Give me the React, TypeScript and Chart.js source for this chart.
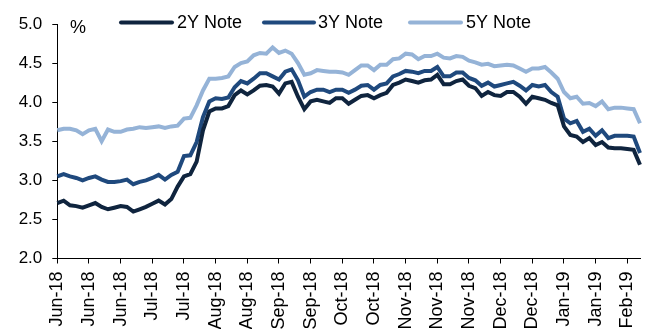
import React, { useEffect, useRef } from "react";
import { Chart, registerables } from "chart.js";

Chart.register(...registerables);

// One point every ~2 business days, Jun-2018 .. mid Feb-2019
const categories: string[] = [
  "Jun-18", "Jun-18", "Jun-18", "Jun-18", "Jun-18", "Jun-18", "Jun-18", "Jun-18", "Jun-18", "Jun-18", "Jun-18",
  "Jul-18", "Jul-18", "Jul-18", "Jul-18", "Jul-18", "Jul-18", "Jul-18", "Jul-18", "Jul-18", "Jul-18", "Jul-18",
  "Aug-18", "Aug-18", "Aug-18", "Aug-18", "Aug-18", "Aug-18", "Aug-18", "Aug-18", "Aug-18", "Aug-18", "Aug-18",
  "Sep-18", "Sep-18", "Sep-18", "Sep-18", "Sep-18", "Sep-18", "Sep-18", "Sep-18", "Sep-18", "Sep-18", "Sep-18",
  "Oct-18", "Oct-18", "Oct-18", "Oct-18", "Oct-18", "Oct-18", "Oct-18", "Oct-18", "Oct-18", "Oct-18", "Oct-18",
  "Nov-18", "Nov-18", "Nov-18", "Nov-18", "Nov-18", "Nov-18", "Nov-18", "Nov-18", "Nov-18", "Nov-18", "Nov-18",
  "Dec-18", "Dec-18", "Dec-18", "Dec-18", "Dec-18", "Dec-18", "Dec-18", "Dec-18", "Dec-18", "Dec-18", "Dec-18",
  "Jan-19", "Jan-19", "Jan-19", "Jan-19", "Jan-19", "Jan-19", "Jan-19", "Jan-19", "Jan-19", "Jan-19", "Jan-19",
  "Feb-19", "Feb-19", "Feb-19", "Feb-19", "Feb-19",
];

const note2y: number[] = [
  2.71, 2.74, 2.68, 2.67, 2.65, 2.68, 2.71, 2.66, 2.63, 2.65,
  2.67, 2.66, 2.60, 2.63, 2.66, 2.70, 2.74, 2.69, 2.76, 2.92,
  3.05, 3.08, 3.24, 3.64, 3.88, 3.92, 3.92, 3.95, 4.09, 4.15,
  4.10, 4.15, 4.21, 4.22, 4.20, 4.11, 4.24, 4.26, 4.07, 3.91,
  4.01, 4.03, 4.01, 3.99, 4.05, 4.05, 3.98, 4.03, 4.08, 4.09,
  4.05, 4.09, 4.12, 4.22, 4.25, 4.29, 4.27, 4.25, 4.28, 4.29,
  4.35, 4.23, 4.23, 4.27, 4.29, 4.21, 4.18, 4.08, 4.13, 4.09,
  4.08, 4.13, 4.13, 4.07, 3.98, 4.07, 4.05, 4.03, 3.99, 3.96,
  3.69, 3.58, 3.56, 3.49, 3.54, 3.45, 3.49, 3.42, 3.41, 3.41,
  3.40, 3.39, 3.20,
];

const note3y: number[] = [
  3.05, 3.08, 3.05, 3.03, 3.00, 3.03, 3.05, 3.01, 2.98, 2.98,
  2.99, 3.01, 2.95, 2.98, 3.00, 3.03, 3.07, 3.01, 3.07, 3.11,
  3.31, 3.32, 3.49, 3.81, 4.01, 4.05, 4.04, 4.06, 4.19, 4.27,
  4.24, 4.30, 4.37, 4.37, 4.33, 4.29, 4.39, 4.42, 4.28, 4.07,
  4.13, 4.16, 4.16, 4.13, 4.16, 4.16, 4.12, 4.16, 4.21, 4.22,
  4.16, 4.22, 4.24, 4.33, 4.36, 4.40, 4.39, 4.37, 4.40, 4.40,
  4.45, 4.33, 4.33, 4.38, 4.38, 4.31, 4.28, 4.21, 4.25, 4.20,
  4.22, 4.24, 4.26, 4.21, 4.15, 4.22, 4.20, 4.22, 4.13, 4.07,
  3.79, 3.73, 3.76, 3.62, 3.66, 3.57, 3.64, 3.54, 3.57, 3.57,
  3.57, 3.56, 3.35,
];

const note5y: number[] = [
  3.64, 3.66, 3.66, 3.64, 3.59, 3.64, 3.66, 3.50, 3.65, 3.62,
  3.62, 3.65, 3.66, 3.68, 3.67, 3.68, 3.69, 3.67, 3.69, 3.70,
  3.79, 3.80, 3.96, 4.15, 4.30, 4.30, 4.31, 4.33, 4.45, 4.50,
  4.52, 4.60, 4.63, 4.62, 4.70, 4.63, 4.66, 4.62, 4.50, 4.35,
  4.37, 4.41, 4.40, 4.39, 4.39, 4.38, 4.35, 4.41, 4.47, 4.47,
  4.41, 4.48, 4.48, 4.55, 4.56, 4.62, 4.61, 4.55, 4.59, 4.59,
  4.62, 4.57, 4.56, 4.59, 4.58, 4.53, 4.51, 4.48, 4.49, 4.46,
  4.47, 4.48, 4.47, 4.43, 4.39, 4.43, 4.43, 4.45, 4.38, 4.30,
  4.13, 4.05, 4.07, 3.98, 3.99, 3.95, 4.01, 3.91, 3.93, 3.93,
  3.92, 3.91, 3.73,
];

const seriesNames = ["2Y Note", "3Y Note", "5Y Note"];
const seriesColors = ["#0F243E", "#1F497D", "#95B3D7"];
const yMin = 2.0;
const yMax = 5.0;
const yStep = 0.5;
const tickEvery = 5;
const unitLabel = "%";

const FONT = "'Liberation Sans', Arial, sans-serif";

const overlayPlugin = {
  id: "overlay",
  afterDraw(chart: any) {
    const ctx = chart.ctx as CanvasRenderingContext2D;
    ctx.save();
    // unit label
    ctx.fillStyle = "#000";
    ctx.font = `18px ${FONT}`;
    ctx.textAlign = "left";
    ctx.textBaseline = "middle";
    ctx.fillText(unitLabel, 70, 28);
    // legend
    const items = [
      { x1: 121, x2: 172, tx: 177 },
      { x1: 264, x2: 314, tx: 318 },
      { x1: 410, x2: 461, tx: 466 },
    ];
    const y = 22.5;
    items.forEach((it, i) => {
      ctx.strokeStyle = seriesColors[i];
      ctx.lineWidth = 4;
      ctx.lineCap = "round";
      ctx.beginPath();
      ctx.moveTo(it.x1, y);
      ctx.lineTo(it.x2, y);
      ctx.stroke();
      ctx.fillStyle = "#000";
      ctx.font = `18px ${FONT}`;
      ctx.textBaseline = "middle";
      ctx.fillText(seriesNames[i], it.tx, y + 1);
    });
    ctx.restore();
  },
};

export default function App() {
  const canvasRef = useRef<HTMLCanvasElement | null>(null);

  useEffect(() => {
    if (!canvasRef.current) return;
    const series = [note2y, note3y, note5y];
    const chart = new Chart(canvasRef.current, {
      type: "line",
      data: {
        labels: categories,
        datasets: series.map((d, i) => ({
          label: seriesNames[i],
          data: d,
          borderColor: seriesColors[i],
          backgroundColor: seriesColors[i],
          borderWidth: 4,
          pointRadius: 0,
          tension: 0,
          fill: false,
        })),
      },
      options: {
        animation: false,
        responsive: true,
        maintainAspectRatio: false,
        layout: { padding: { top: 24, right: 30, left: 0, bottom: 0 } },
        plugins: {
          legend: { display: false },
          tooltip: { enabled: false },
        },
        scales: {
          x: {
            type: "category",
            offset: false,
            afterFit: (scale: any) => {
              scale.height = 70.5;
            },
            border: { display: true, color: "#000", width: 1 },
            grid: {
              display: true,
              drawOnChartArea: false,
              drawTicks: true,
              tickLength: 5,
              tickColor: "#000",
              color: "#000",
            },
            ticks: {
              autoSkip: false,
              maxRotation: 90,
              minRotation: 90,
              padding: 8,
              color: "#000",
              font: { family: FONT, size: 18 },
              callback: (_v: any, index: number) =>
                index % tickEvery === 0 ? categories[index] : null,
            },
          },
          y: {
            min: yMin,
            max: yMax,
            afterFit: (scale: any) => {
              scale.width = 57.3;
            },
            border: { display: true, color: "#000", width: 1 },
            grid: {
              display: true,
              drawOnChartArea: false,
              drawTicks: true,
              tickLength: 5,
              tickColor: "#000",
              color: "#000",
            },
            ticks: {
              stepSize: yStep,
              padding: 10,
              color: "#000",
              font: { family: FONT, size: 17 },
              callback: (v: any) => Number(v).toFixed(1),
            },
          },
        },
      },
      plugins: [overlayPlugin],
    });
    return () => chart.destroy();
  }, []);

  return (
    <div style={{ position: "absolute", left: 0, top: 0, width: 670, height: 329, background: "#fff" }}>
      <canvas ref={canvasRef} />
    </div>
  );
}
